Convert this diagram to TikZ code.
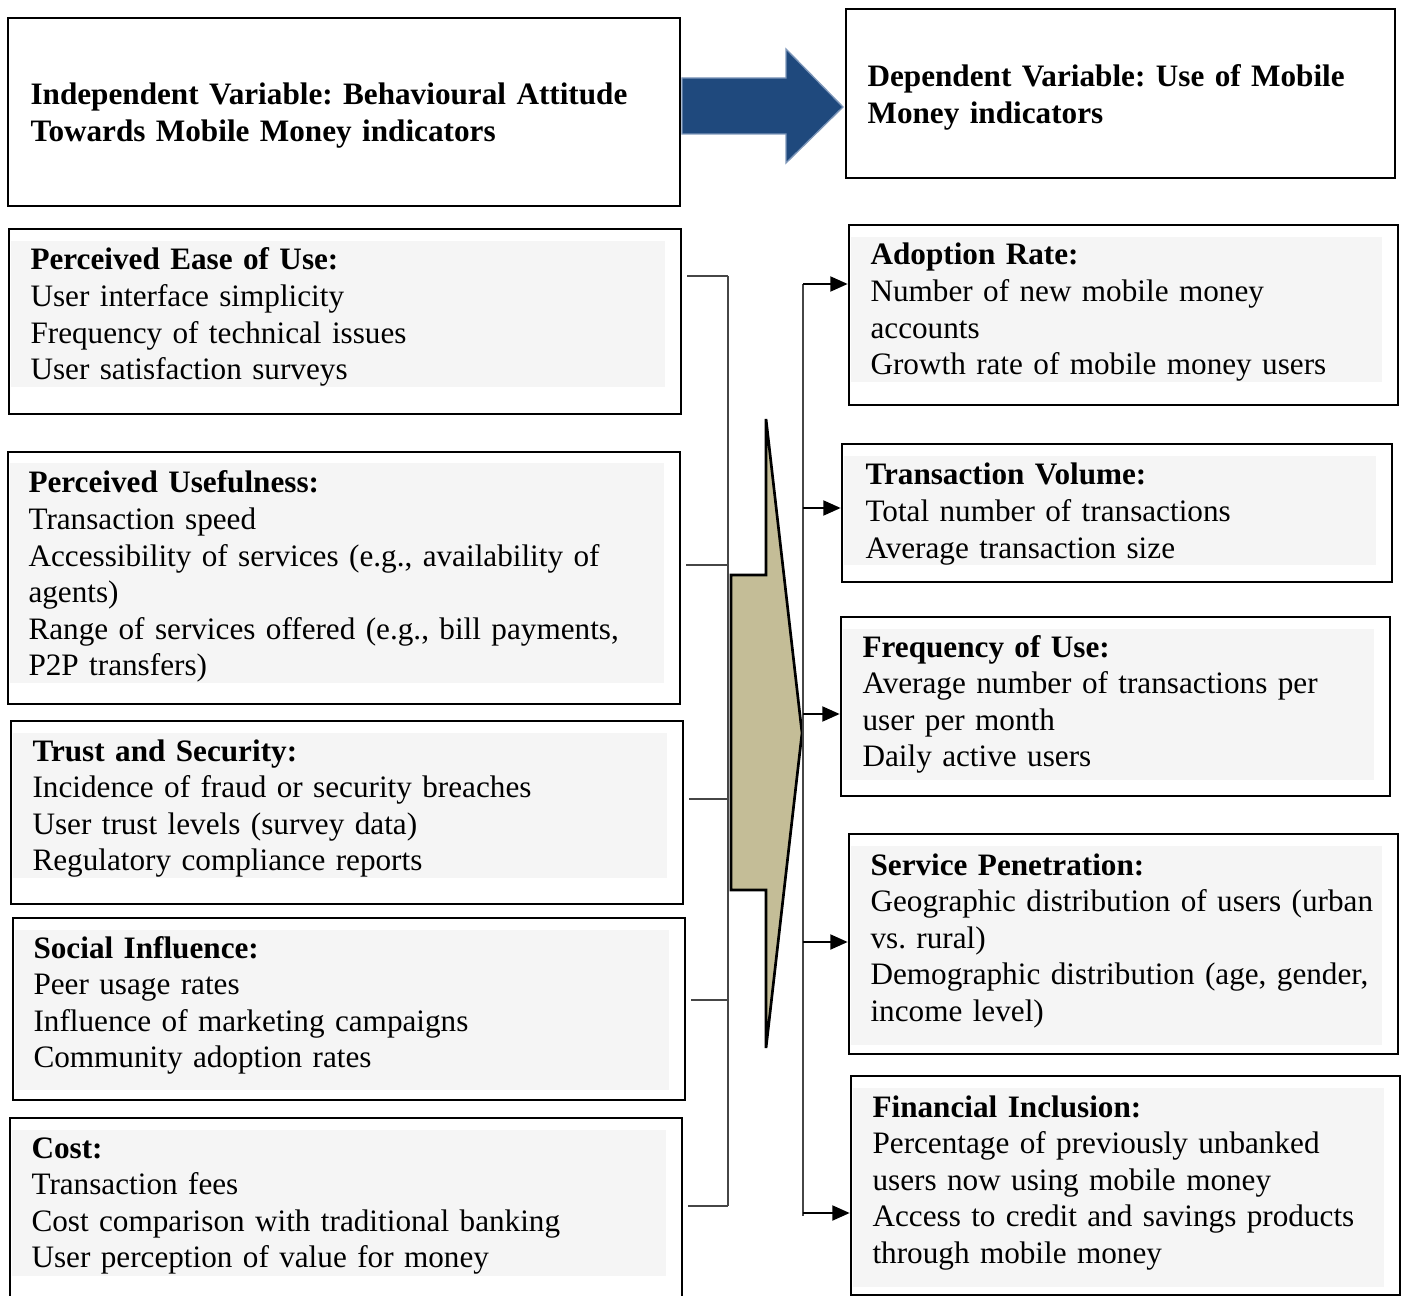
\documentclass[tikz,border=0pt]{standalone}
\usepackage{fontspec}
\setmainfont{Liberation Serif}
\usepackage{tikz}
\usetikzlibrary{arrows.meta,calc,fit}
\definecolor{arrblue}{RGB}{31,73,125}
\definecolor{arredge}{RGB}{125,150,185}
\definecolor{wedgetan}{RGB}{196,189,151}
\definecolor{boxgray}{RGB}{245,245,245}
\definecolor{linegray}{RGB}{70,70,70}
\frenchspacing
\tikzset{
  panel/.style={draw=black, line width=1pt, inner sep=0pt},
  txt/.style={anchor=base west, inner sep=0pt, text width=250pt, align=left,
              font=\fontsize{11.7}{13.7}\selectfont},
  brk/.style={draw=linegray, line width=0.45pt},
  feed/.style={-{Triangle[length=6.5pt,width=5.6pt]}, black, line width=0.8pt},
}

\begin{document}
\begin{tikzpicture}[x=0.375pt, y=-0.375pt]
  \useasboundingbox (0,0) rectangle (1404,1296);

  % header boxes
  \node[panel, fit={(8,18) (680,206)}] (iv) {};
  \node[txt] (ivT) at (30,105) {\textbf{Independent Variable: Behavioural Attitude}\\
    \textbf{Towards Mobile Money indicators}};
  \node[panel, fit={(846,9) (1395,178)}] (dv) {};
  \node[txt] (dvT) at (867,87) {\textbf{Dependent Variable: Use of Mobile}\\
    \textbf{Money indicators}};
  \filldraw[fill=arrblue, draw=arredge, line width=0.5pt]
    (682,78) -- (786,78) -- (786,49) -- (843,107) -- (786,163) -- (786,134) -- (682,134) -- cycle;

  % left side: indicators of attitude
  \node[panel, fit={(9,229) (681,414)}] (ease) {};
  \fill[boxgray] (11,241) rectangle (665,387);
  \node[txt] (easeT) at (30,270) {\textbf{Perceived Ease of Use:}\\
    User interface simplicity\\ Frequency of technical issues\\ User satisfaction surveys};

  \node[panel, fit={(8,452) (680,704)}] (useful) {};
  \fill[boxgray] (10,463) rectangle (664,683);
  \node[txt] (usefulT) at (28,493) {\textbf{Perceived Usefulness:}\\
    Transaction speed\\ Accessibility of services (e.g., availability of\\ agents)\\
    Range of services offered (e.g., bill payments,\\ P2P transfers)};

  \node[panel, fit={(11,721) (683,904)}] (trust) {};
  \fill[boxgray] (13,733) rectangle (667,878);
  \node[txt] (trustT) at (32,761) {\textbf{Trust and Security:}\\
    Incidence of fraud or security breaches\\ User trust levels (survey data)\\
    Regulatory compliance reports};

  \node[panel, fit={(13,918) (685,1100)}] (social) {};
  \fill[boxgray] (15,930) rectangle (669,1090);
  \node[txt] (socialT) at (33,958) {\textbf{Social Influence:}\\
    Peer usage rates\\ Influence of marketing campaigns\\ Community adoption rates};

  \node[panel, fit={(10,1118) (682,1310)}] (cost) {};
  \fill[boxgray] (12,1130) rectangle (666,1276);
  \node[txt] (costT) at (31,1158) {\textbf{Cost:}\\
    Transaction fees\\ Cost comparison with traditional banking\\
    User perception of value for money};

  % right side: indicators of use
  \node[panel, fit={(849,225) (1398,405)}] (adopt) {};
  \fill[boxgray] (851,237) rectangle (1382,382);
  \node[txt] (adoptT) at (870,265) {\textbf{Adoption Rate:}\\
    Number of new mobile money\\ accounts\\ Growth rate of mobile money users};

  \node[panel, fit={(842,444) (1392,582)}] (volume) {};
  \fill[boxgray] (844,456) rectangle (1376,565);
  \node[txt] (volumeT) at (865,485) {\textbf{Transaction Volume:}\\
    Total number of transactions\\ Average transaction size};

  \node[panel, fit={(841,617) (1390,796)}] (freq) {};
  \fill[boxgray] (843,629) rectangle (1374,780);
  \node[txt] (freqT) at (862,657) {\textbf{Frequency of Use:}\\
    Average number of transactions per\\ user per month\\ Daily active users};

  \node[panel, fit={(849,834) (1398,1054)}] (pene) {};
  \fill[boxgray] (851,846) rectangle (1382,1045);
  \node[txt] (peneT) at (870,875) {\textbf{Service Penetration:}\\
    Geographic distribution of users (urban\\ vs. rural)\\
    Demographic distribution (age, gender,\\ income level)};

  \node[panel, fit={(851,1076) (1400,1295)}] (incl) {};
  \fill[boxgray] (853,1088) rectangle (1384,1287);
  \node[txt] (inclT) at (872,1117) {\textbf{Financial Inclusion:}\\
    Percentage of previously unbanked\\ users now using mobile money\\
    Access to credit and savings products\\ through mobile money};

  % bracket collecting the left boxes
  \coordinate (lb1) at (728,276);
  \coordinate (lb2) at (728,565);
  \coordinate (lb3) at (728,799);
  \coordinate (lb4) at (728,1000);
  \coordinate (lb5) at (728,1206);
  \draw[brk] (lb1) -- (lb5);
  \draw[brk] ($(ease.east |- lb1)+(5,0)$) -- (lb1);
  \draw[brk] ($(useful.east |- lb2)+(5,0)$) -- (lb2);
  \draw[brk] ($(trust.east |- lb3)+(5,0)$) -- (lb3);
  \draw[brk] ($(social.east |- lb4)+(5,0)$) -- (lb4);
  \draw[brk] ($(cost.east |- lb5)+(5,0)$) -- (lb5);

  % big wedge
  \filldraw[fill=wedgetan, draw=black, line width=1pt, line join=miter]
    (766,419) -- (766,575) -- (731,575) -- (731,890) -- (766,890) -- (766,1048) -- (802,733) -- cycle;

  % distributor to the right boxes
  \coordinate (rb1) at (803,284);
  \coordinate (rb2) at (803,508);
  \coordinate (rb3) at (803,714);
  \coordinate (rb4) at (803,942);
  \coordinate (rb5) at (803,1213);
  \draw[brk, line width=0.6pt] (rb1) -- ($(rb5)+(0,3)$);
  \draw[feed] (rb1) -- (adopt.west |- rb1);
  \draw[feed] (rb2) -- (volume.west |- rb2);
  \draw[feed] (rb3) -- (freq.west |- rb3);
  \draw[feed] (rb4) -- (pene.west |- rb4);
  \draw[feed] (rb5) -- (incl.west |- rb5);
\end{tikzpicture}
\end{document}
